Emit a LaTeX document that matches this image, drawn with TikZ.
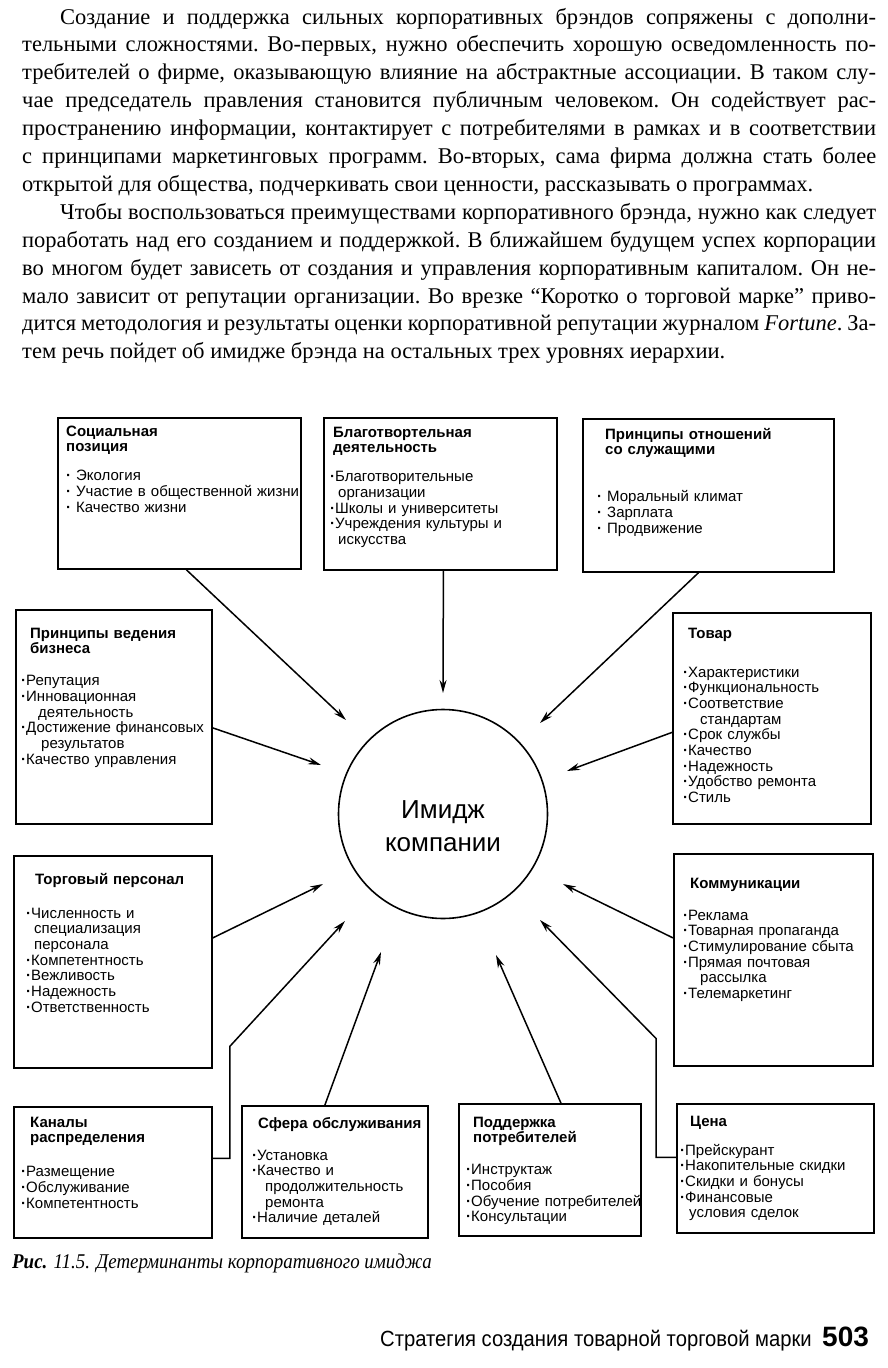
\documentclass[tikz,border=0pt]{standalone}
\usepackage{fontspec}
\setmainfont[WordSpace={1,1.1,1.7}]{Liberation Serif}
\setsansfont{Liberation Sans}
\newfontfamily\footfont[FakeStretch=0.92]{Liberation Sans}
\newfontfamily\capfont[FakeStretch=0.9]{Liberation Serif}
\usetikzlibrary{arrows.meta,positioning}
\newcommand{\bul}{\textbf{·}}

\begin{document}
\begin{tikzpicture}[x=1pt,y=-1pt,
  bodytext/.style={anchor=base west, inner sep=0pt, text width=854pt, align=justify,
                   font={\fontsize{22.5}{27.9}\selectfont\frenchspacing\hyphenpenalty=10000\exhyphenpenalty=10000\tolerance=9999}},
  block/.style={draw, line width=1.8pt, anchor=north west, inner sep=0pt},
  blocktext/.style={anchor=base west, inner sep=0pt, align=left, text width=250pt,
                    font=\sffamily\fontsize{15}{15.7}\selectfont},
  hub/.style={draw, circle, line width=1.6pt, minimum size=209pt, align=center,
              font=\sffamily\fontsize{26}{33}\selectfont},
  arrow/.style={-{Stealth[length=13pt,width=7pt]}, line width=1.5pt}
]
  \path[use as bounding box, fill=white] (0,0) rectangle (888,1368);

  % Text above the figure
  \node[bodytext] (body) at (22,24) {%
    \hspace*{38pt}Создание и поддержка сильных корпоративных брэндов сопряжены с дополни-\linebreak
    тельными сложностями. Во-первых, нужно обеспечить хорошую осведомленность по-\linebreak
    требителей о фирме, оказывающую влияние на абстрактные ассоциации. В таком слу-\linebreak
    чае председатель правления становится публичным человеком. Он содействует рас-\linebreak
    пространению информации, контактирует с потребителями в рамках и в соответствии\linebreak
    с принципами маркетинговых программ. Во-вторых, сама фирма должна стать более\linebreak
    открытой для общества, подчеркивать свои ценности, рассказывать о программах.\par
    \hspace*{38pt}Чтобы воспользоваться преимуществами корпоративного брэнда, нужно как следует\linebreak
    поработать над его созданием и поддержкой. В ближайшем будущем успех корпорации\linebreak
    во многом будет зависеть от создания и управления корпоративным капиталом. Он не-\linebreak
    мало зависит от репутации организации. Во врезке “Коротко о торговой марке” приво-\linebreak
    дится методология и результаты оценки корпоративной репутации журналом \textit{Fortune}. За-\linebreak
    тем речь пойдет об имидже брэнда на остальных трех уровнях иерархии.};

  % Centre
  \node[hub] (image) at (443,814) {Имидж\rule{0pt}{42pt}\\компании};

  % Boxes, top row
  \node[block, minimum width=243pt, minimum height=151pt] (social) at (57,417) {};
  \node[blocktext] (social-t) at (66,436) {\textbf{Социальная}\\\textbf{позиция}\\[13.3pt]
    \bul{} Экология\\\bul{} Участие в общественной жизни\\\bul{} Качество жизни};
  \node[block, minimum width=233pt, minimum height=152pt] (charity) at (323,417) {};
  \node[blocktext] (charity-t) at (330,437) {\hspace*{3pt}\textbf{Благотвортельная}\\\hspace*{3pt}\textbf{деятельность}\\[13.3pt]
    \bul Благотворительные\\\hspace*{8pt}организации\\\bul Школы и университеты\\\bul Учреждения культуры и\\\hspace*{8pt}искусства};
  \node[block, minimum width=251pt, minimum height=153pt] (staff) at (582,418) {};
  \node[blocktext] (staff-t) at (597,439) {\hspace*{8pt}\textbf{Принципы отношений}\\\hspace*{8pt}\textbf{со служащими}\\[31.3pt]
    \bul{} Моральный климат\\\bul{} Зарплата\\\bul{} Продвижение};

  % Boxes, sides
  \node[block, minimum width=196pt, minimum height=214pt] (business) at (15,609) {};
  \node[blocktext] (business-t) at (21,638) {\hspace*{9pt}\textbf{Принципы ведения}\\\hspace*{9pt}\textbf{бизнеса}\\[16.3pt]
    \bul Репутация\\\bul Инновационная\\\hspace*{17pt}деятельность\\\bul Достижение финансовых\\\hspace*{20pt}результатов\\\bul Качество управления};
  \node[block, minimum width=198pt, minimum height=211pt] (product) at (672,612) {};
  \node[blocktext] (product-t) at (683,638) {\hspace*{5pt}\textbf{Товар}\\[23.3pt]
    \bul Характеристики\\\bul Функциональность\\\bul Соответствие\\\hspace*{17pt}стандартам\\\bul Срок службы\\\bul Качество\\\bul Надежность\\\bul Удобство ремонта\\\bul Стиль};
  \node[block, minimum width=198pt, minimum height=212pt] (sales) at (13,855) {};
  \node[blocktext] (sales-t) at (26,884) {\hspace*{9pt}\textbf{Торговый персонал}\\[18.3pt]
    \bul Численность и\\\hspace*{8pt}специализация\\\hspace*{8pt}персонала\\\bul Компетентность\\\bul Вежливость\\\bul Надежность\\\bul Ответственность};
  \node[block, minimum width=199pt, minimum height=212pt] (comm) at (673,853) {};
  \node[blocktext] (comm-t) at (683,888) {\hspace*{7pt}\textbf{Коммуникации}\\[16.3pt]
    \bul Реклама\\\bul Товарная пропаганда\\\bul Стимулирование сбыта\\\bul Прямая почтовая\\\hspace*{17pt}рассылка\\\bul Телемаркетинг};

  % Boxes, bottom row
  \node[block, minimum width=198pt, minimum height=131pt] (channels) at (13,1106) {};
  \node[blocktext] (channels-t) at (21,1127) {\hspace*{9pt}\textbf{Каналы}\\\hspace*{9pt}\textbf{распределения}\\[18.3pt]
    \bul Размещение\\\bul Обслуживание\\\bul Компетентность};
  \node[block, minimum width=186pt, minimum height=132pt] (service) at (241,1105) {};
  \node[blocktext] (service-t) at (252,1128) {\hspace*{6pt}\textbf{Сфера обслуживания}\\[16.3pt]
    \bul Установка\\\bul Качество и\\\hspace*{13pt}продолжительность\\\hspace*{13pt}ремонта\\\bul Наличие деталей};
  \node[block, minimum width=182pt, minimum height=132pt] (support) at (458,1103) {};
  \node[blocktext] (support-t) at (466,1127) {\hspace*{7pt}\textbf{Поддержка}\\\hspace*{7pt}\textbf{потребителей}\\[16.3pt]
    \bul Инструктаж\\\bul Пособия\\\bul Обучение потребителей\\\bul Консультации};
  \node[block, minimum width=197pt, minimum height=129pt] (price) at (676,1103) {};
  \node[blocktext] (price-t) at (680,1126) {\hspace*{10pt}\textbf{Цена}\\[13.3pt]
    \bul Прейскурант\\\bul Накопительные скидки\\\bul Скидки и бонусы\\\bul Финансовые\\\hspace*{9pt}условия сделок};

  % Arrows to the centre
  \draw[arrow] ([xshift=7pt]social.south) -- ([shift={(-97,-94)}]image.center);
  \draw[arrow] ([xshift=3pt]charity.south) -- ([shift={(0,-121)}]image.center);
  \draw[arrow] ([xshift=-10pt]staff.south) -- ([shift={(97,-91)}]image.center);
  \draw[arrow] ([yshift=-11pt]business.east) -- ([shift={(-122,-49)}]image.center);
  \draw[arrow] ([yshift=-14pt]product.west) -- ([shift={(124,-43)}]image.center);
  \draw[arrow] ([yshift=24pt]sales.east) -- ([shift={(-120,70)}]image.center);
  \draw[arrow] ([yshift=22pt]comm.west) -- ([shift={(120,70)}]image.center);
  \draw[arrow] ([yshift=14pt]channels.east) -- ++(17,0) -- ++(0,-112) -- ([shift={(-98,107)}]image.center);
  \draw[arrow] ([xshift=-10pt]service.north) -- ([shift={(-62,138)}]image.center);
  \draw[arrow] ([xshift=11pt]support.north) -- ([shift={(53,141)}]image.center);
  \draw[arrow] ([yshift=11pt]price.west) -- ++(-20,0) -- ++(0,-119) -- ([shift={(97,106)}]image.center);

  % Caption and running foot
  \node[anchor=base west, inner sep=0pt, font=\capfont\fontsize{21}{24}\selectfont] (caption) at (12,1268)
    {\textbf{\textit{Рис.}} \textit{11.5. Детерминанты корпоративного имиджа}};
  \node[anchor=base east, inner sep=0pt, font=\footfont\fontsize{22}{26}\selectfont] (foot) at (812,1346)
    {Стратегия создания товарной торговой марки};
  \node[anchor=base west, inner sep=0pt, font=\sffamily\bfseries\fontsize{28}{30}\selectfont] (page) at (822,1346) {503};
\end{tikzpicture}
\end{document}
